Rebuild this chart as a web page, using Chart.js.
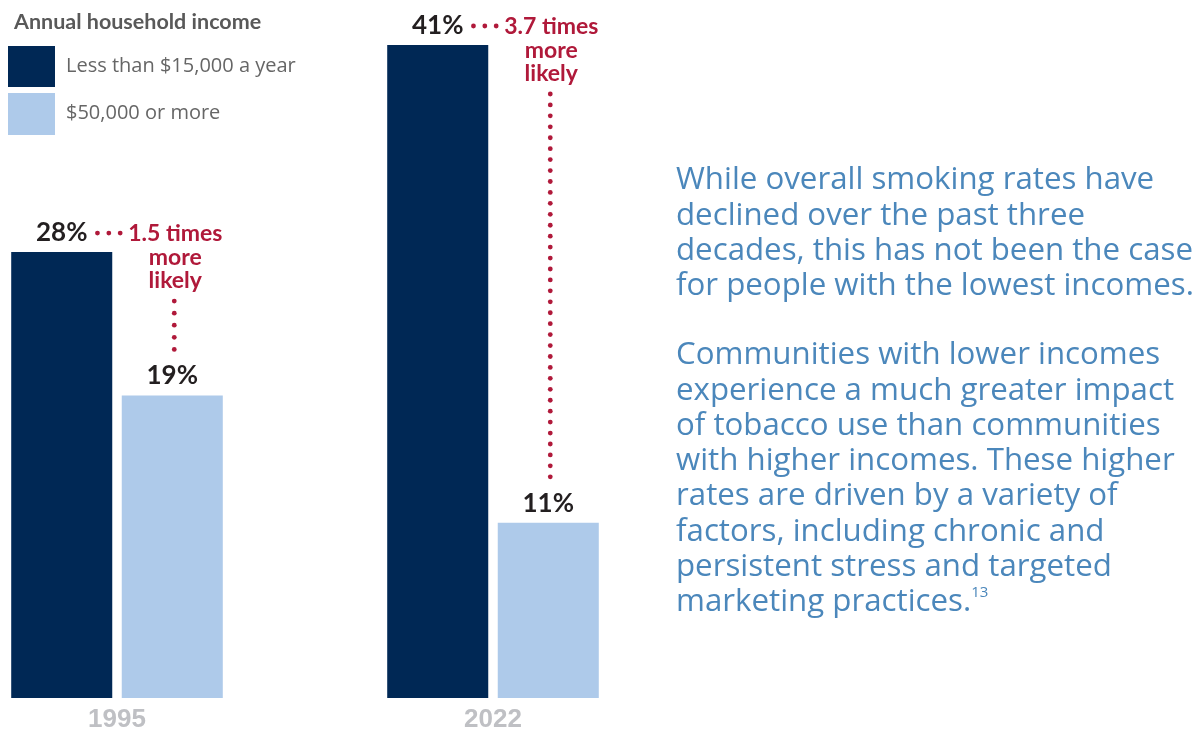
<!DOCTYPE html>
<html><head><meta charset="utf-8">
<script src="https://cdn.jsdelivr.net/npm/chart.js@4/dist/chart.umd.min.js"></script>
<style>
html,body{margin:0;padding:0;background:#fff;width:1195px;height:732px;overflow:hidden;}
#c{position:absolute;left:0;top:0;}
.para{position:absolute;left:676px;color:#4b87bb;font-family:"Open Sans";font-weight:400;white-space:nowrap;margin:0;}
.para sup{font-size:0.48em;line-height:0;vertical-align:0.95em;}
</style></head><body>
<canvas id="c" width="1195" height="732"></canvas>
<div class="para" id="p1"></div>
<div class="para" id="p2"></div>
<script>
// ---- data ----
const years = ['1995', '2022'];
const lowIncome = [28, 41];          // Less than $15,000 a year (%)
const highIncome = [19, 11];         // $50,000 or more (%)
const seriesNames = ['Less than $15,000 a year', '$50,000 or more'];
const legendTitle = 'Annual household income';
const ratioLabels = ['1.5 times', '3.7 times'];
const ratioTail = ['more', 'likely'];
const paragraph1 = ['While overall smoking rates have', 'declined over the past three', 'decades, this has not been the case', 'for people with the lowest incomes.'];
const paragraph2 = ['Communities with lower incomes', 'experience a much greater impact', 'of tobacco use than communities', 'with higher incomes. These higher', 'rates are driven by a variety of', 'factors, including chronic and', 'persistent stress and targeted', 'marketing practices.'];
const footnote = '13';

// ---- styles ----
const NAVY = '#002855';
const LIGHT = '#aecaea';
const RED = '#b0193a';
const LABEL = '#231f20';

// ---- side text ----
(function(){
  const mc = document.createElement('canvas').getContext('2d');
  mc.font = '400 100px "Open Sans"';
  const w = mc.measureText(paragraph1[2]).width;
  const size = 100 * 517 / w;
  const L = 35.3;
  const baseOff = (L - 1.362 * size) / 2 + 1.069 * size;
  const p1 = document.getElementById('p1'), p2 = document.getElementById('p2');
  [p1, p2].forEach(p => { p.style.fontSize = size + 'px'; p.style.lineHeight = L + 'px'; });
  p1.innerHTML = paragraph1.join('<br>');
  p2.innerHTML = paragraph2.join('<br>') + '<sup>' + footnote + '</sup>';
  p1.style.top = (190 - baseOff) + 'px';
  p2.style.top = (365 - baseOff) + 'px';
})();

// ---- plugins ----
const legendPlugin = {
  id: 'customLegend',
  afterDraw(chart) {
    const ctx = chart.ctx;
    ctx.save();
    ctx.textAlign = 'left';
    ctx.textBaseline = 'alphabetic';
    ctx.fillStyle = '#595959';
    ctx.font = 'bold 21.5px Lato';
    ctx.fillText(legendTitle, 14, 29);
    const boxes = [[46, 41], [93, 42]];
    chart.data.datasets.forEach((ds, i) => {
      ctx.fillStyle = ds.backgroundColor;
      ctx.fillRect(8, boxes[i][0], 47, boxes[i][1]);
      ctx.fillStyle = '#666666';
      ctx.font = '400 20px "Open Sans"';
      ctx.fillText(ds.label, 66, boxes[i][0] + 26);
    });
    ctx.restore();
  }
};

function dotsH(ctx, x0, x1, y) {
  const n = Math.max(1, Math.round((x1 - x0) / 12)) + 1;
  const step = (x1 - x0) / (n - 1);
  for (let k = 0; k < n; k++) { ctx.beginPath(); ctx.arc(x0 + k * step, y, 2.4, 0, Math.PI * 2); ctx.fill(); }
}
function dotsV(ctx, x, y0, y1) {
  const n = Math.max(1, Math.round((y1 - y0) / 10.8)) + 1;
  const step = (y1 - y0) / (n - 1);
  for (let k = 0; k < n; k++) { ctx.beginPath(); ctx.arc(x, y0 + k * step, 2.4, 0, Math.PI * 2); ctx.fill(); }
}

const labelPlugin = {
  id: 'valueLabels',
  afterDatasetsDraw(chart) {
    const ctx = chart.ctx;
    const m0 = chart.getDatasetMeta(0), m1 = chart.getDatasetMeta(1);
    ctx.save();
    ctx.textAlign = 'center';
    ctx.textBaseline = 'alphabetic';
    const valFont = 'bold 26px Lato';
    const redFont = 'bold 23px Lato';
    [m0, m1].forEach((m, di) => m.data.forEach((bar, i) => {
      ctx.font = valFont; ctx.fillStyle = LABEL;
      ctx.fillText(chart.data.datasets[di].data[i] + '%', bar.x, bar.y - 11);
    }));
    years.forEach((yr, i) => {
      const dark = m0.data[i], light = m1.data[i];
      const base = dark.y - 11;
      const cx = light.x + 3;
      ctx.fillStyle = RED;
      ctx.font = redFont;
      const lines = [ratioLabels[i]].concat(ratioTail);
      lines.forEach((t, k) => ctx.fillText(t, cx, base + k * 23.5));
      const tw = ctx.measureText(ratioLabels[i]).width;
      ctx.font = valFont;
      const lw = ctx.measureText(lowIncome[i] + '%').width;
      dotsH(ctx, dark.x + lw / 2 + 10, cx - tw / 2 - 8, base - 8);
      const vy0 = base + 2 * 23.5 + 13;
      const vy1 = light.y - 11 - 19 - 16;
      dotsV(ctx, light.x + 2, vy0, vy1);
    });
    ctx.restore();
  }
};

// ---- chart ----
const ctx = document.getElementById('c').getContext('2d');
new Chart(ctx, {
  type: 'bar',
  data: {
    labels: years,
    datasets: [
      { label: seriesNames[0], data: lowIncome, backgroundColor: NAVY, clip: false },
      { label: seriesNames[1], data: highIncome, backgroundColor: LIGHT, clip: false }
    ]
  },
  options: {
    responsive: false,
    animation: false,
    layout: { padding: { left: 117, right: 1195 - 493, top: 45, bottom: 0 } },
    datasets: { bar: { categoryPercentage: 0.588, barPercentage: 0.914 } },
    plugins: { legend: { display: false }, tooltip: { enabled: false } },
    scales: {
      x: {
        offset: false,
        afterFit(scale) { scale.height = 34; },
        grid: { display: false, drawTicks: false },
        border: { display: false },
        ticks: { color: '#bfc0c4', padding: 14, maxRotation: 0, autoSkip: false,
                 font: { family: '"Liberation Sans Narrow", "Liberation Sans", sans-serif', size: 26, weight: 'bold', lineHeight: 0.6 } }
      },
      y: { display: false, min: 0, max: Math.max(...lowIncome, ...highIncome) }
    }
  },
  plugins: [legendPlugin, labelPlugin]
});
</script>
</body></html>
